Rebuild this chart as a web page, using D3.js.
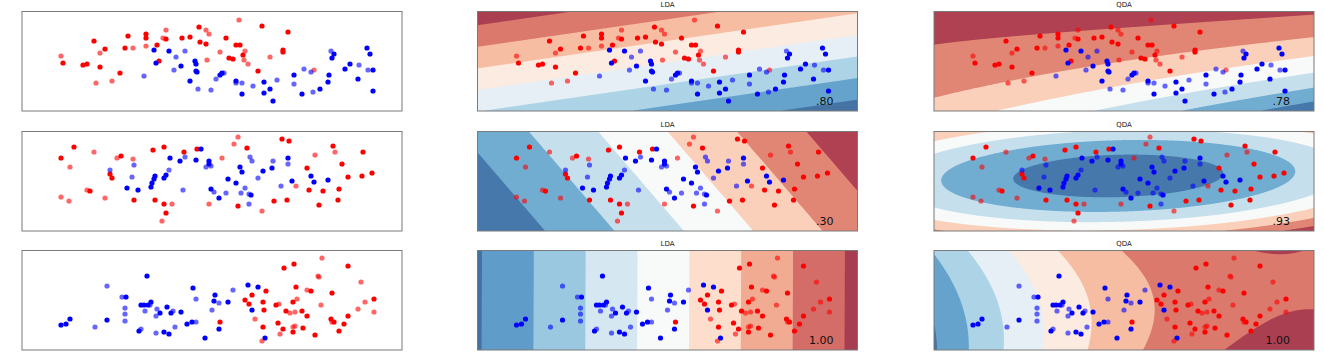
<!DOCTYPE html>
<html><head><meta charset="utf-8">
<script src="https://cdn.jsdelivr.net/npm/d3@7"></script>
<style>body{margin:0;background:#fff}svg{display:block}</style>
</head><body>
<svg id="c" width="1324" height="363"></svg>
<script>
// ---------------- DATA (feature1, feature2, isTest) ----------------
const classifierNames = ["LDA", "QDA"];
const scoreLabels = [[".80", ".78"], [".30", ".93"], ["1.00", "1.00"]];
const featureXRange = [0, 3.8];
const featureYRange = [0, 0.995];

const ds1Red = [[0.39,0.55,1],[0.41,0.48,0],[0.61,0.46,0],[0.65,0.47,0],[0.72,0.70,0],[0.78,0.58,1],[0.83,0.62,0],[0.78,0.44,0],[0.74,0.28,1],[0.90,0.30,1],[0.98,0.38,0],[1.03,0.63,0],[1.06,0.75,0],[1.11,0.63,1],[1.24,0.77,0],[1.24,0.73,0],[1.24,0.65,1],[1.35,0.66,0],[1.41,0.73,1],[1.44,0.81,1],[1.44,0.72,0],[1.37,0.50,0],[1.60,0.73,0],[1.68,0.74,0],[1.77,0.84,0],[1.84,0.81,1],[1.87,0.77,1],[1.78,0.69,0],[1.84,0.67,0],[1.85,0.51,1],[2.17,0.91,1],[2.40,0.85,0],[2.66,0.79,0],[2.04,0.73,0],[2.14,0.66,0],[2.18,0.66,0],[1.98,0.59,1],[2.23,0.60,1],[2.21,0.56,0],[2.07,0.53,0],[2.11,0.52,0],[2.22,0.51,1],[2.26,0.47,1],[2.48,0.54,1],[2.61,0.59,0],[2.61,0.61,0],[2.36,0.40,0],[2.92,0.41,1]];
const ds1Blue = [[1.32,0.61,0],[1.34,0.48,0],[1.47,0.60,0],[1.54,0.54,1],[1.63,0.60,1],[1.59,0.45,0],[1.52,0.41,1],[1.22,0.35,1],[1.73,0.50,0],[1.74,0.47,0],[1.74,0.40,0],[1.75,0.39,0],[1.68,0.30,0],[1.76,0.22,1],[1.94,0.32,1],[1.89,0.21,1],[1.98,0.36,0],[2.00,0.38,0],[2.02,0.38,1],[2.14,0.30,0],[2.14,0.28,1],[2.20,0.28,1],[2.20,0.17,0],[2.31,0.25,1],[2.42,0.29,0],[2.42,0.18,0],[2.48,0.22,0],[2.55,0.31,1],[2.51,0.10,0],[2.72,0.36,0],[2.72,0.27,1],[2.80,0.17,0],[2.82,0.42,1],[2.89,0.39,1],[2.91,0.19,1],[2.98,0.22,0],[3.06,0.29,0],[3.07,0.36,0],[3.09,0.60,1],[3.10,0.53,0],[3.12,0.57,0],[3.23,0.42,0],[3.28,0.47,0],[3.37,0.46,1],[3.36,0.32,0],[3.45,0.63,0],[3.48,0.57,0],[3.46,0.41,1],[3.51,0.41,0],[3.51,0.20,0]];

const ds2Red = [[0.52,0.84,0],[0.39,0.73,0],[0.48,0.64,1],[0.72,0.79,1],[0.95,0.73,1],[0.99,0.75,0],[1.11,0.72,1],[0.88,0.57,0],[0.90,0.53,0],[0.65,0.41,1],[0.68,0.40,0],[0.39,0.34,1],[0.47,0.30,1],[0.83,0.33,1],[1.31,0.81,0],[1.42,0.84,0],[1.62,0.79,0],[1.75,0.82,0],[1.12,0.31,0],[1.33,0.31,0],[1.42,0.27,0],[1.50,0.27,1],[1.44,0.18,0],[1.40,0.10,1],[1.87,0.27,1],[2.16,0.94,1],[2.12,0.87,1],[2.25,0.83,0],[2.00,0.73,1],[2.60,0.92,0],[2.67,0.90,0],[2.93,0.76,1],[3.11,0.85,0],[3.13,0.79,1],[3.41,0.79,0],[3.20,0.67,0],[2.85,0.63,0],[3.50,0.58,0],[3.26,0.54,0],[3.40,0.55,0],[2.74,0.45,1],[2.87,0.41,0],[3.01,0.40,0],[3.17,0.42,0],[3.16,0.31,0],[2.97,0.26,0],[2.65,0.31,0],[2.52,0.30,0],[2.40,0.20,1],[2.16,0.25,0]];
const ds2Blue = [[0.88,0.61,1],[1.12,0.66,1],[1.10,0.54,1],[1.05,0.43,0],[1.16,0.41,0],[1.33,0.55,0],[1.32,0.52,0],[1.30,0.48,0],[1.29,0.44,0],[1.44,0.56,0],[1.42,0.53,0],[1.47,0.61,1],[1.48,0.73,0],[1.58,0.70,0],[1.63,0.74,1],[1.74,0.71,0],[1.79,0.82,0],[1.61,0.41,1],[1.87,0.70,0],[1.87,0.67,0],[1.84,0.64,1],[1.89,0.65,1],[1.89,0.42,0],[1.92,0.39,1],[2.18,0.64,0],[2.20,0.59,0],[2.28,0.74,1],[2.30,0.70,1],[2.06,0.52,0],[2.14,0.48,0],[2.04,0.38,1],[1.97,0.33,0],[2.19,0.38,1],[2.23,0.43,1],[2.27,0.37,1],[2.29,0.36,0],[2.27,0.27,1],[2.36,0.53,1],[2.41,0.60,0],[2.50,0.63,0],[2.51,0.70,1],[2.66,0.73,0],[2.66,0.67,1],[2.70,0.50,0],[2.59,0.45,1],[2.89,0.55,0],[2.92,0.49,0],[3.06,0.51,0]];

const ds3Red = [[1.98,0.28,0],[2.23,0.50,0],[2.30,0.55,0],[2.27,0.46,0],[2.44,0.59,0],[2.41,0.48,0],[2.42,0.40,0],[2.33,0.31,1],[2.41,0.23,0],[2.40,0.09,1],[2.54,0.45,0],[2.57,0.46,1],[2.62,0.82,0],[2.72,0.86,0],[2.64,0.39,0],[2.68,0.37,1],[2.73,0.38,1],[2.71,0.48,0],[2.75,0.51,1],[2.74,0.63,0],[2.56,0.27,0],[2.61,0.21,0],[2.58,0.16,1],[2.71,0.23,1],[2.73,0.24,1],[2.71,0.18,0],[2.80,0.39,0],[2.81,0.22,0],[2.85,0.34,0],[2.85,0.60,1],[2.89,0.59,0],[2.96,0.74,1],[2.97,0.73,1],[3.00,0.92,1],[2.99,0.45,1],[2.93,0.15,0],[3.10,0.57,0],[3.09,0.31,0],[3.10,0.28,1],[3.12,0.28,0],[3.22,0.26,0],[3.17,0.19,0],[3.26,0.34,0],[3.26,0.84,0],[3.39,0.68,1],[3.36,0.41,1],[3.43,0.48,1],[3.52,0.51,0],[3.52,0.38,1]];
const ds3Blue = [[0.39,0.25,0],[0.44,0.26,0],[0.48,0.31,0],[0.73,0.23,1],[0.85,0.64,1],[0.85,0.30,0],[1.00,0.53,1],[1.04,0.53,0],[1.03,0.42,1],[1.03,0.36,1],[1.03,0.29,1],[1.25,0.74,0],[1.19,0.45,0],[1.22,0.45,0],[1.26,0.45,0],[1.29,0.48,0],[1.23,0.39,1],[1.28,0.45,1],[1.35,0.41,1],[1.34,0.34,1],[1.38,0.37,0],[1.45,0.43,0],[1.49,0.37,0],[1.51,0.39,1],[1.59,0.38,0],[1.19,0.21,1],[1.17,0.19,0],[1.34,0.17,1],[1.42,0.18,0],[1.47,0.16,0],[1.53,0.23,1],[1.71,0.62,0],[1.74,0.51,1],[1.65,0.26,0],[1.70,0.28,0],[1.74,0.28,1],[1.83,0.12,0],[1.90,0.40,1],[1.93,0.55,0],[1.92,0.49,0],[1.97,0.47,1],[2.06,0.48,0],[2.11,0.60,1],[2.26,0.65,0],[2.36,0.63,0],[2.30,0.40,0],[1.97,0.21,0],[2.43,0.12,0]];

const datasets = [[ds1Red, ds1Blue], [ds2Red, ds2Blue], [ds3Red, ds3Blue]];

// ---------------- LAYOUT ----------------
const W = 380, H = 99.5;
const colX = [22, 477.5, 934];
const rowTop = [11.5, 131.5, 250.5];
const svg = d3.select("#c");

// matplotlib RdBu colormap (contourf alpha 0.8 on white)
const rdbu = ["#67001f","#b2182b","#d6604d","#f4a582","#fddbc7","#f7f7f7","#d1e5f0","#92c5de","#4393c3","#2166ac","#053061"];
const cmapScale = d3.scaleLinear().domain(d3.range(11).map(i => i / 10)).range(rdbu).interpolate(d3.interpolateRgb).clamp(true);
function cmap(v) { const idx = Math.min(255, Math.max(0, Math.floor(v * 256))); return cmapScale(idx / 255); }
const withAlpha = c => d3.interpolateRgb("#ffffff", c)(0.8);

// ---------------- MODELS (fit on training points) ----------------
function mean(p) { return [d3.mean(p, d => d[0]), d3.mean(p, d => d[1])]; }
function scatterM(p, m) {
  let a = 0, b = 0, c = 0;
  p.forEach(d => { const dx = d[0] - m[0], dy = d[1] - m[1]; a += dx * dx; b += dx * dy; c += dy * dy; });
  return [a, b, c];
}
function inv2(s) { const det = s[0] * s[2] - s[1] * s[1]; return { i: [s[2] / det, -s[1] / det, s[0] / det], det }; }
function quad(iv, dx, dy) { return iv[0] * dx * dx + 2 * iv[1] * dx * dy + iv[2] * dy * dy; }

function fitLDA(red, blue) {
  const t0 = red.filter(d => !d[2]), t1 = blue.filter(d => !d[2]);
  const m0 = mean(t0), m1 = mean(t1);
  const s0 = scatterM(t0, m0), s1 = scatterM(t1, m1);
  const n = t0.length + t1.length;
  const S = [0, 1, 2].map(k => (s0[k] + s1[k]) / (n - 2));
  const { i } = inv2(S);
  const lp0 = Math.log(t0.length / n), lp1 = Math.log(t1.length / n);
  return (x, y) => (-0.5 * quad(i, x - m1[0], y - m1[1]) + lp1) - (-0.5 * quad(i, x - m0[0], y - m0[1]) + lp0);
}
function fitQDA(red, blue) {
  const parts = [red, blue].map(p => {
    const t = p.filter(d => !d[2]);
    const m = mean(t);
    const s = scatterM(t, m).map(v => v / (t.length - 1));
    const { i, det } = inv2(s);
    return { m, i, ld: Math.log(det), n: t.length };
  });
  const n = parts[0].n + parts[1].n;
  const sc = (P, x, y) => -0.5 * (P.ld + quad(P.i, x - P.m[0], y - P.m[1])) + Math.log(P.n / n);
  return (x, y) => sc(parts[1], x, y) - sc(parts[0], x, y);
}

// classic MaxNLocator-style contour levels
function contourLevels(lo, hi, nbins) {
  const raw = (hi - lo) / nbins;
  const mag = Math.pow(10, Math.floor(Math.log10(raw)));
  let step = 10 * mag;
  for (const s of [1, 1.5, 2, 2.5, 3, 4, 5, 6, 8, 10]) { if (s * mag >= raw * (1 - 1e-9)) { step = s * mag; break; } }
  const a = Math.floor(lo / step + 1e-9), b = Math.ceil(hi / step - 1e-9);
  return d3.range(a, b + 1).map(k => k * step);
}

// ---------------- DRAW ----------------
const defs = svg.append("defs");

datasets.forEach((ds, r) => {
  const [red, blue] = ds;
  for (let c = 0; c < 3; c++) {
    const x0 = colX[c], y0 = rowTop[r];
    const xs = d3.scaleLinear().domain(featureXRange).range([x0, x0 + W]);
    const ys = d3.scaleLinear().domain(featureYRange).range([y0 + H, y0]);
    const g = svg.append("g");
    const clipId = `clip${r}${c}`;
    defs.append("clipPath").attr("id", clipId).append("rect")
      .attr("x", x0).attr("y", y0).attr("width", W).attr("height", H);

    if (c > 0) {
      const f = c === 1 ? fitLDA(red, blue) : fitQDA(red, blue);
      const nx = 380, ny = 100;
      const gxData = gx => featureXRange[0] + gx / nx * (featureXRange[1] - featureXRange[0]);
      const gyData = gy => featureYRange[1] - gy / ny * (featureYRange[1] - featureYRange[0]);
      const vals = new Array(nx * ny);
      for (let j = 0; j < ny; j++) for (let i = 0; i < nx; i++) vals[j * nx + i] = f(gxData(i + 0.5), gyData(j + 0.5));
      const [zmin, zmax] = d3.extent(vals);
      const levels = contourLevels(zmin, zmax, 8);
      const L0 = levels[0], L1 = levels[levels.length - 1];
      const bandColor = k => withAlpha(cmap(((levels[k] + levels[k + 1]) / 2 - L0) / (L1 - L0)));
      const proj = d3.geoTransform({ point(px, py) { this.stream.point(xs(gxData(px)), ys(gyData(py))); } });
      const path = d3.geoPath(proj);
      const cg = g.append("g").attr("clip-path", `url(#${clipId})`);
      cg.append("rect").attr("x", x0).attr("y", y0).attr("width", W).attr("height", H).attr("fill", bandColor(0));
      const contours = d3.contours().size([nx, ny]).thresholds(levels.slice(0, -1))(vals);
      contours.forEach((ct, k) => {
        cg.append("path").attr("d", path(ct)).attr("fill", bandColor(k));
      });
    }

    const pg = g.append("g").attr("clip-path", `url(#${clipId})`);
    [[red, "#FF0000"], [blue, "#0000FF"]].forEach(([pts, col]) => {
      pg.selectAll(null).data(pts.filter(d => !d[2])).join("circle")
        .attr("cx", d => xs(d[0])).attr("cy", d => ys(d[1])).attr("r", 2.6).attr("fill", col);
    });
    [[red, "#FF0000"], [blue, "#0000FF"]].forEach(([pts, col]) => {
      pg.selectAll(null).data(pts.filter(d => d[2])).join("circle")
        .attr("cx", d => xs(d[0])).attr("cy", d => ys(d[1])).attr("r", 2.6).attr("fill", col).attr("fill-opacity", 0.6);
    });

    g.append("rect").attr("x", x0).attr("y", y0).attr("width", W).attr("height", H)
      .attr("fill", "none").attr("stroke", "#7a7a7a").attr("stroke-width", 1);

    if (c > 0) {
      g.append("text").attr("x", x0 + W / 2).attr("y", y0 - 4.3)
        .attr("text-anchor", "middle").attr("font-family", "DejaVu Sans").attr("font-size", 7)
        .attr("fill", "#222").text(classifierNames[c - 1]);
      g.append("text").attr("x", x0 + W - 24).attr("y", y0 + H - 6)
        .attr("text-anchor", "end").attr("font-family", "DejaVu Sans").attr("font-size", 11)
        .attr("fill", "#111").text(scoreLabels[r][c - 1]);
    }
  }
});
</script>
</body></html>
